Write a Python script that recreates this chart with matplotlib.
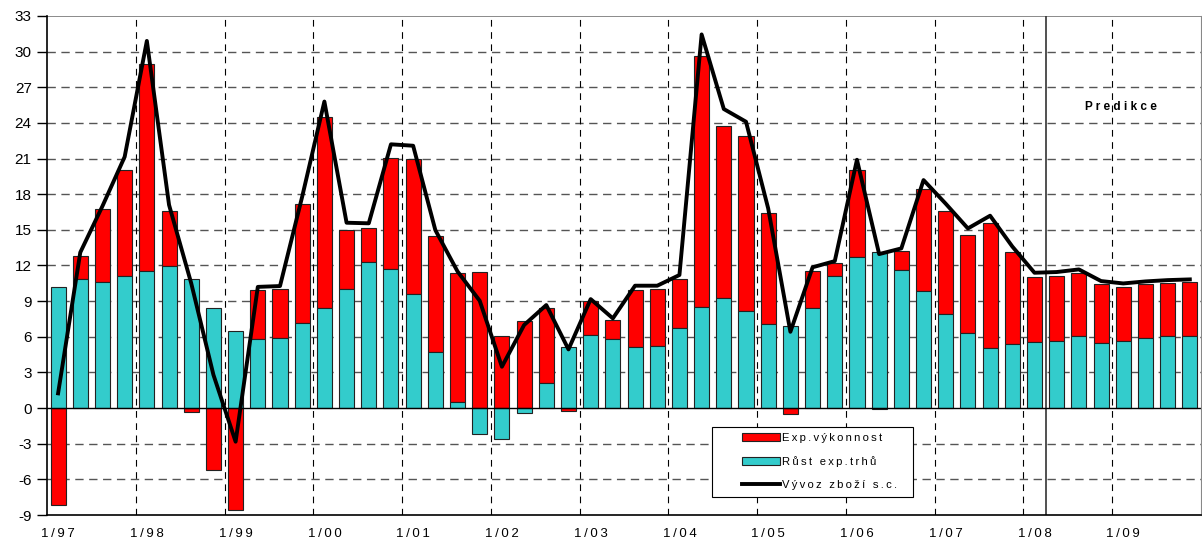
import matplotlib.pyplot as plt
import numpy as np
from matplotlib.patches import Rectangle

plt.rcParams['font.family'] = ['Liberation Sans', 'DejaVu Sans']

# quarterly data 1/97 .. 4/09
years = ['97', '98', '99', '00', '01', '02', '03', '04', '05', '06', '07', '08', '09']
tick_labels = ['1/' + y for y in years]

# Rust exp. trhu (cyan)
market = [10.16, 10.83, 10.63, 11.14, 11.53, 11.95, 10.83, 8.39, 6.45, 5.78, 5.86, 7.13,
          8.44, 9.99, 12.32, 11.67, 9.60, 4.69, 0.53, -2.19, -2.64, -0.39, 2.13, 5.16,
          6.17, 5.78, 5.11, 5.25, 6.73, 8.47, 9.29, 8.19, 7.04, 6.90, 8.44, 11.14,
          12.68, 13.16, 11.62, 9.88, 7.88, 6.34, 5.08, 5.36, 5.58, 5.67, 6.09, 5.44,
          5.67, 5.92, 6.03, 6.03]

# Exp. vykonnost (red)
perf = [-8.17, 1.97, 6.09, 8.89, 17.40, 4.63, -0.30, -5.22, -8.59, 4.15, 4.13, 10.04,
        16.03, 4.99, 2.80, 9.40, 11.33, 9.81, 10.80, 11.48, 6.06, 7.35, 6.31, -0.22,
        2.86, 1.60, 4.82, 4.74, 4.10, 21.19, 14.47, 14.71, 9.35, -0.53, 3.12, 1.04,
        7.35, -0.08, 1.62, 8.53, 8.73, 8.22, 10.52, 7.74, 5.42, 5.44, 5.24, 5.00,
        4.54, 4.52, 4.46, 4.55]

# Vyvoz zbozi s.c. (line)
export = [1.24, 13.1, 17.0, 21.15, 30.9, 17.1, 10.5, 2.8, -2.83, 10.2, 10.27, 17.8,
          25.8, 15.6, 15.55, 22.2, 22.08, 14.98, 11.5, 9.03, 3.48, 6.99, 8.67, 4.94,
          9.17, 7.55, 10.3, 10.3, 11.2, 31.45, 25.17, 24.1, 16.8, 6.42, 11.85, 12.37,
          20.9, 12.96, 13.44, 19.19, 17.2, 15.12, 16.19, 13.6, 11.39, 11.45, 11.67, 10.69,
          10.49, 10.66, 10.77, 10.83]

market = np.array(market)
perf = np.array(perf)
x = np.arange(len(market))


def spaced(s):
    # excel-like letter spacing
    return '\u2009'.join(s)


# stacking like excel: positives up, negatives down
perf_bottom = np.where(perf >= 0, np.maximum(market, 0), np.minimum(market, 0))

fig = plt.figure(figsize=(12.02, 5.42), dpi=100)
ax = fig.add_axes([0.0391, 0.0498, 0.9600, 0.9207])

# grid
for v in range(-6, 33, 3):
    if v == 0:
        continue
    ax.axhline(v, color='#555555', lw=1.0, ls=(0, (6, 4)), zorder=0)
for k in range(1, 13):
    ax.axvline(4 * k - 0.5, color='black', lw=0.8, ls=(0, (6, 5)), zorder=0)
ax.axhline(33, color='#777777', lw=1.2, zorder=0)

w = 0.68
ax.bar(x, perf, w, bottom=perf_bottom, color='#FF0000', edgecolor='#222222',
       lw=0.8, label=spaced('Exp.výkonnost'), zorder=2)
ax.bar(x, market, w, color='#33CCCC', edgecolor='#222222', lw=0.8,
       label=spaced('Růst exp.trhů'), zorder=2)
ax.plot(x, export, color='black', lw=2.8, label=spaced('Vývoz zboží s.c.'), zorder=3)

ax.axhline(0, color='black', lw=1.0, zorder=2.5)
ax.axvline(44.5, color='#333333', lw=1.2, zorder=1)
ax.text(47.9, 25.3, 'P r e d i k c e', fontsize=8.5, fontweight='bold', ha='center', va='center')

ax.set_xlim(-0.5, len(x) - 0.5)
ax.set_ylim(-9, 33)
ax.set_yticks(range(-9, 34, 3))
ax.set_yticklabels([str(v) for v in range(-9, 34, 3)], fontsize=11)
ax.set_xticks(x[::4])
ax.set_xticklabels([spaced(t) for t in tick_labels], fontsize=9.5)
ax.tick_params(axis='x', length=0, pad=9)
ax.tick_params(axis='y', length=7, width=1, direction='out', pad=4)

ax.spines['top'].set_visible(False)
ax.spines['right'].set_color('#888888')
ax.spines['left'].set_linewidth(1.2)
ax.spines['bottom'].set_linewidth(1.2)

# legend box drawn separately (wide side padding as in excel)
fig.patches.append(Rectangle((712 / 1202, 1 - 497 / 542), 201 / 1202, 70 / 542,
                             transform=fig.transFigure, facecolor='white',
                             edgecolor='black', lw=0.8, zorder=4))
h, l = ax.get_legend_handles_labels()
order = [1, 2, 0]
leg = fig.legend([h[i] for i in order], [l[i] for i in order], loc='upper left',
                 bbox_to_anchor=(742 / 1202, 1 - 433 / 542), bbox_transform=fig.transFigure,
                 fontsize=8.1, frameon=False, borderpad=0, borderaxespad=0,
                 handlelength=3.4, handletextpad=0.2, labelspacing=1.15)
leg.set_zorder(5)

fig.savefig('out.png', dpi=100)
